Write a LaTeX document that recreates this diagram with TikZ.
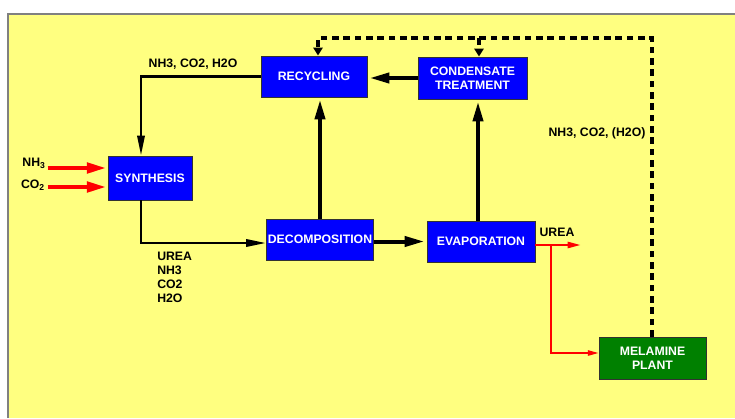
\documentclass[tikz,border=0pt]{standalone}
\usepackage{fontspec}
\setmainfont{Liberation Sans}
\usetikzlibrary{arrows.meta,calc}

\begin{document}
\begin{tikzpicture}[x=0.75pt,y=0.75pt,yscale=-1,xscale=1,
  font=\bfseries\fontsize{9.2}{10.5}\selectfont,
  proc/.style={draw={rgb,255:red,50;green,50;blue,50}, line width=0.7pt, fill={rgb,255:red,0;green,0;blue,255}, text=white, align=center, inner sep=0pt},
  plant/.style={proc, fill={rgb,255:red,0;green,128;blue,0}},
  main/.style={line width=3pt, shorten >=1.5pt, -{Triangle[length=15pt,width=7.5pt]}},
  back/.style={line width=1.8pt, -{Triangle[length=15pt,width=5.5pt]}},
  feed/.style={draw={rgb,255:red,255;green,0;blue,0}, line width=2.4pt, -{Triangle[length=14pt,width=8pt]}},
  prod/.style={draw={rgb,255:red,255;green,0;blue,0}, line width=1.8pt, -{Triangle[length=10pt,width=4.5pt]}},
  side/.style={draw={rgb,255:red,255;green,0;blue,0}, line width=1.2pt, -{Triangle[length=8pt,width=4pt]}},
  recyc/.style={line width=2.6pt, dash pattern={on 5pt off 3.5pt}, -{Triangle[length=6pt,width=7pt]}}
]
\useasboundingbox (0,0) rectangle (735,418);

%Background
\fill [color={rgb, 255:red, 255; green, 255; blue, 128}] (8,14) rectangle (735,418);
\draw [color={rgb, 255:red, 128; green, 128; blue, 128}, line width=1.2pt] (8,418) -- (8,14) -- (735,14);

% Process blocks
\node (rec) [proc, minimum width=79.5pt, minimum height=30.75pt] at (314,76.5) {RECYCLING};
\node (cond) [proc, minimum width=81.75pt, minimum height=31.5pt] at (472.5,78) {CONDENSATE\\TREATMENT};
\node (syn) [proc, minimum width=63pt, minimum height=33pt] at (150,178) {SYNTHESIS};
\node (dec) [proc, minimum width=80.25pt, minimum height=30.75pt] at (320,239.5) {DECOMPOSITION};
\node (evap) [proc, minimum width=81pt, minimum height=30.75pt] at (481,241.5) {EVAPORATION};
\node (mel) [plant, minimum width=80.25pt, minimum height=31.5pt] at (652.5,358) {MELAMINE\\PLANT};

% Text Node
\node (lrec) at (193,64) {NH3, CO2, H2O};
% Text Node
\node (lmel) at (597,133) {NH3, CO2, (H2O)};
% Text Node
\node (lnh) at (34,163) {NH\textsubscript{3}};
% Text Node
\node (lco) at (33,185) {CO\textsubscript{2}};
% Text Node
\node (lprod) [anchor=north west, align=left, inner sep=0pt] at (157,251.5) {UREA\\NH3\\CO2\\H2O};
% Text Node
\node (lurea) at (557,232) {UREA};

%Straight Lines
\coordinate (sdown) at ($(syn.south)+(-9,0)$);
\coordinate (evup) at ($(evap.north)+(-3,0)$);
\draw [main] (cond.west) -- (cond.west -| rec.east);
\draw [back] (rec.west) -| ($(syn.north)+(-9,0)$);
\draw [back] (sdown) |- ($(dec.west)+(0,3.5)$);
\draw [main] (dec.north) -- (dec.north |- rec.south);
\draw [main] (evup) -- (evup |- cond.south);
\draw [main] (dec.east |- evap.west) -- (evap.west);

%Feed and product lines
\draw [feed] ($(syn.west)+(-60,-10)$) -- ($(syn.west)+(-2,-10)$);
\draw [feed] ($(syn.west)+(-60,9)$) -- ($(syn.west)+(-2,9)$);
\coordinate (uout) at (581,245);
\coordinate (split) at (551,245);
\draw [prod] (evap.east |- uout) -- (uout);
\draw [side] (split) |- ($(mel.west)+(0,-5)$);

%Dashed return lines
\coordinate (dtop) at (652,38);
\coordinate (dleft) at (318,38);
\coordinate (dmid) at (479,38);
\draw [recyc] (mel.north -| dtop) -- (dtop) -- (dleft) -- (dleft |- rec.north);
\draw [recyc] (dmid) -- (dmid |- cond.north);

\end{tikzpicture}
\end{document}
